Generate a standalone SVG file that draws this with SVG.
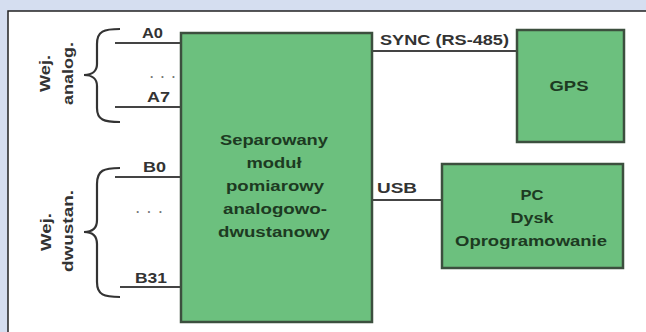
<svg xmlns="http://www.w3.org/2000/svg" width="646" height="332" viewBox="0 0 646 332">
<style>
.box{fill:#6cc07e;stroke:#3c4f3e;stroke-width:2.5}
.bt{font-family:"Liberation Sans",Arial,sans-serif;font-weight:bold;font-size:14.5px;fill:#1d3a22;text-anchor:middle}
.lbl{font-family:"Liberation Sans",Arial,sans-serif;font-weight:bold;font-size:14px;fill:#333}
.wire{stroke:#444;stroke-width:2;fill:none}
.brace{stroke:#333;stroke-width:2.2;fill:none}
.dots{font-family:"Liberation Sans",Arial,sans-serif;font-weight:bold;font-size:12px;fill:#777}
</style>
<rect x="0" y="0" width="646" height="332" fill="#d5def0"/>
<rect x="8" y="11" width="650" height="330" fill="#ffffff" stroke="#222" stroke-width="1.5"/>
<g id="connectors">
<line class="wire" x1="115" y1="43" x2="181" y2="43"/>
<line class="wire" x1="115" y1="107" x2="181" y2="107"/>
<line class="wire" x1="115" y1="177" x2="181" y2="177"/>
<line class="wire" x1="120" y1="287" x2="181" y2="287"/>
<line class="wire" x1="372" y1="51" x2="517" y2="51"/>
<line class="wire" x1="372" y1="200" x2="442" y2="200"/>
<text class="lbl" x="142" y="38" textLength="21" lengthAdjust="spacingAndGlyphs">A0</text>
<text class="dots" x="150" y="78" textLength="25" lengthAdjust="spacing">. . .</text>
<text class="lbl" x="147" y="102" textLength="23" lengthAdjust="spacingAndGlyphs">A7</text>
<text class="lbl" x="143" y="172" textLength="23" lengthAdjust="spacingAndGlyphs">B0</text>
<text class="dots" x="136" y="213" textLength="26" lengthAdjust="spacing">. . .</text>
<text class="lbl" x="135" y="283" textLength="32" lengthAdjust="spacingAndGlyphs">B31</text>
<text class="lbl" x="380" y="45" textLength="129" lengthAdjust="spacingAndGlyphs">SYNC (RS-485)</text>
<text class="lbl" x="377" y="193" textLength="40" lengthAdjust="spacingAndGlyphs">USB</text>
</g>
<g id="input-analog">
<path class="brace" d="M120,29 C104,29 97,31 97,44 L97,64 C97,71 92,75 84,75 C92,75 97,79 97,86 L97,108 C97,120 104,122 120,122"/>
<text class="lbl" transform="translate(50,92) rotate(-90)" textLength="37" lengthAdjust="spacingAndGlyphs">Wej.</text>
<text class="lbl" transform="translate(73,105) rotate(-90)" textLength="63" lengthAdjust="spacingAndGlyphs">analog.</text>
</g>
<g id="input-digital">
<path class="brace" d="M120,168 C104,168 97,170 97,184 L97,220 C97,228 92,232 84,232 C92,232 97,236 97,244 L97,282 C97,295 104,297 120,297"/>
<text class="lbl" transform="translate(51,251) rotate(-90)" textLength="38" lengthAdjust="spacingAndGlyphs">Wej.</text>
<text class="lbl" transform="translate(73,272) rotate(-90)" textLength="82" lengthAdjust="spacingAndGlyphs">dwustan.</text>
</g>
<g id="module">
<rect class="box" x="181" y="33" width="191" height="289"/>
<text class="bt" x="274" y="145" textLength="108" lengthAdjust="spacingAndGlyphs">Separowany</text>
<text class="bt" x="274" y="168" textLength="55" lengthAdjust="spacingAndGlyphs">moduł</text>
<text class="bt" x="275" y="191" textLength="98" lengthAdjust="spacingAndGlyphs">pomiarowy</text>
<text class="bt" x="275" y="214" textLength="104" lengthAdjust="spacingAndGlyphs">analogowo-</text>
<text class="bt" x="274" y="237" textLength="112" lengthAdjust="spacingAndGlyphs">dwustanowy</text>
</g>
<g id="gps">
<rect class="box" x="517" y="30" width="107" height="112"/>
<text class="bt" x="569" y="91" textLength="39" lengthAdjust="spacingAndGlyphs">GPS</text>
</g>
<g id="pc">
<rect class="box" x="442" y="164" width="181" height="104"/>
<text class="bt" x="532" y="200" textLength="23" lengthAdjust="spacingAndGlyphs">PC</text>
<text class="bt" x="532" y="223" textLength="43" lengthAdjust="spacingAndGlyphs">Dysk</text>
<text class="bt" x="531" y="246" textLength="152" lengthAdjust="spacingAndGlyphs">Oprogramowanie</text>
</g>
</svg>
